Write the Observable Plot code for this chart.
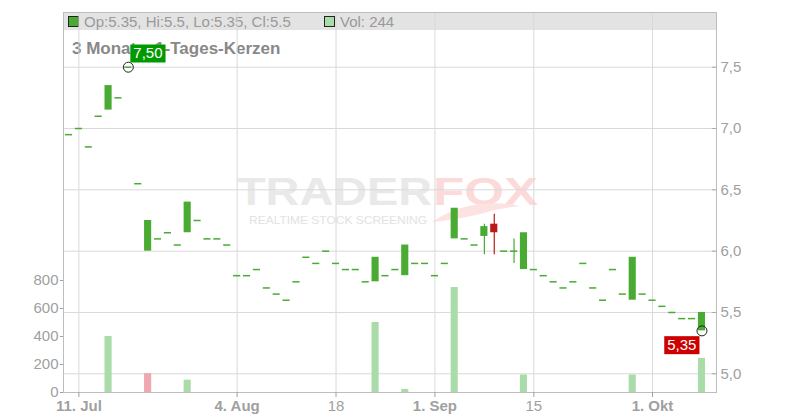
<!DOCTYPE html>
<html><head><meta charset="utf-8">
<script src="https://cdn.jsdelivr.net/npm/d3@7"></script>
<script src="https://cdn.jsdelivr.net/npm/@observablehq/plot@0.6"></script>
<style>
body{margin:0;background:#fff;font-family:"Liberation Sans",Arial,sans-serif;}
#wrap{position:relative;width:800px;height:420px;overflow:hidden;}
#wrap > *{position:absolute;left:0;top:0;}
</style></head><body><div id="wrap"></div>
<script>
const dates = ["2025-07-10","2025-07-11","2025-07-14","2025-07-15","2025-07-16","2025-07-17","2025-07-18","2025-07-21","2025-07-22","2025-07-23","2025-07-24","2025-07-25","2025-07-28","2025-07-29","2025-07-30","2025-07-31","2025-08-01",
"2025-08-04","2025-08-05","2025-08-06","2025-08-07","2025-08-08","2025-08-11","2025-08-12","2025-08-13","2025-08-14","2025-08-15","2025-08-18","2025-08-19","2025-08-20","2025-08-21","2025-08-22","2025-08-25","2025-08-26","2025-08-27","2025-08-28","2025-08-29",
"2025-09-01","2025-09-02","2025-09-03","2025-09-04","2025-09-05","2025-09-08","2025-09-09","2025-09-10","2025-09-11","2025-09-12","2025-09-15","2025-09-16","2025-09-17","2025-09-18","2025-09-19","2025-09-22","2025-09-23","2025-09-24","2025-09-25","2025-09-26","2025-09-29","2025-09-30",
"2025-10-01","2025-10-02","2025-10-03","2025-10-06","2025-10-07","2025-10-08"];
const open  = [6.95,7.00,6.85,7.10,7.15,7.25,7.50,6.55,6.00,6.10,6.15,6.05,6.15,6.25,6.10,6.10,6.05, 5.80,5.80,5.85,5.70,5.65, 5.60,5.75,5.95,5.90,6.00, 5.90,5.85,5.85,5.75,5.75, 5.80,5.85,5.80,5.90,5.90, 5.80,5.90,6.10,6.10,6.05, 6.12,6.22,6.00,6.00,5.85, 5.85,5.80,5.75,5.70,5.75, 5.90,5.70,5.60,5.85,5.65, 5.60,5.65,5.60,5.55,5.50, 5.45,5.45,5.35];
const high  = [6.95,7.00,6.85,7.10,7.35,7.25,7.50,6.55,6.25,6.10,6.15,6.05,6.40,6.25,6.10,6.10,6.05, 5.80,5.80,5.85,5.70,5.65, 5.60,5.75,5.95,5.90,6.00, 5.90,5.85,5.85,5.75,5.95, 5.80,5.85,6.05,5.90,5.90, 5.80,5.90,6.35,6.10,6.05, 6.22,6.30,6.00,6.10,6.15, 5.85,5.80,5.75,5.70,5.75, 5.90,5.70,5.60,5.85,5.65, 5.95,5.65,5.60,5.55,5.50, 5.45,5.45,5.50];
const low   = [6.95,7.00,6.85,7.10,7.15,7.25,7.50,6.55,6.00,6.10,6.15,6.05,6.15,6.25,6.10,6.10,6.05, 5.80,5.80,5.85,5.70,5.65, 5.60,5.75,5.95,5.90,6.00, 5.90,5.85,5.85,5.75,5.75, 5.80,5.85,5.80,5.90,5.90, 5.80,5.90,6.10,6.10,6.05, 5.97,5.97,6.00,5.90,5.85, 5.85,5.80,5.75,5.70,5.75, 5.90,5.70,5.60,5.85,5.65, 5.60,5.65,5.60,5.55,5.50, 5.45,5.45,5.35];
const close = [6.95,7.00,6.85,7.10,7.35,7.25,7.50,6.55,6.25,6.10,6.15,6.05,6.40,6.25,6.10,6.10,6.05, 5.80,5.80,5.85,5.70,5.65, 5.60,5.75,5.95,5.90,6.00, 5.90,5.85,5.85,5.75,5.95, 5.80,5.85,6.05,5.90,5.90, 5.80,5.90,6.35,6.10,6.05, 6.20,6.15,6.00,6.00,6.15, 5.85,5.80,5.75,5.70,5.75, 5.90,5.70,5.60,5.85,5.65, 5.95,5.65,5.60,5.55,5.50, 5.45,5.45,5.50];
const volume = [0,0,0,0,400,0,0,0,135,0,0,0,88,0,0,0,0, 0,0,0,0,0, 0,0,0,0,0, 0,0,0,0,500, 0,0,22,0,0, 0,0,750,0,0, 0,0,0,0,125, 0,0,0,0,0, 0,0,0,0,0, 125,0,0,0,0, 0,0,244];
const priceTicks = [5.0, 5.5, 6.0, 6.5, 7.0, 7.5];
const volumeTicks = [0, 200, 400, 600, 800];
const tickDates = ["2025-07-11","2025-08-04","2025-08-18","2025-09-01","2025-09-15","2025-10-01"];
const tickLabels = ["11. Jul","4. Aug","18","1. Sep","15","1. Okt"];
const titleText = "3 Monate, 1-Tages-Kerzen";

const FONT = '"Liberation Sans", Arial, sans-serif';
const green = "#4aab33", red = "#bb1a1a", volGreen = "#aadcaa", volRed = "#f0a8b0";
const rows = dates.map((date, i) => ({
  i, date, o: open[i], h: high[i], l: low[i], c: close[i], v: volume[i],
  col: close[i] >= open[i] ? green : red,
  vcol: (i === 0 || close[i] >= close[i - 1]) ? volGreen : volRed
}));
const X_DOMAIN = [-0.556, 65.47];
const HW = 0.36;
const common = {
  width: 800, height: 420, marginLeft: 63, marginRight: 84, marginTop: 12, marginBottom: 28,
  x: {type: "linear", domain: X_DOMAIN, axis: null, label: null},
  color: {type: "identity"}
};
const tickIdx = tickDates.map(d => dates.indexOf(d));
const labelOf = new Map(tickIdx.map((k, j) => [k, tickLabels[j]]));
const boldIdx = tickIdx.filter((k, j) => /[A-Za-z]/.test(tickLabels[j]));
const plainIdx = tickIdx.filter((k, j) => !/[A-Za-z]/.test(tickLabels[j]));
const hiI = d3.maxIndex(high), loI = d3.minIndex(low);
const fmt2 = v => v.toFixed(2).replace(".", ",");
const last = rows[rows.length - 1];
const hiText = fmt2(high[hiI]), loText = fmt2(low[loI]);

const styleBase = {background: "transparent", color: "#a0a0a0", fontSize: "15px", fontFamily: FONT, overflow: "visible"};

const pricePlot = Plot.plot({
  ...common,
  style: styleBase,
  y: {domain: [4.8475, 7.946], axis: null, label: null},
  marks: [
    Plot.gridX(tickIdx, {stroke: "#d9d9d9", strokeOpacity: 1}),
    Plot.gridY(priceTicks, {stroke: "#d9d9d9", strokeOpacity: 1}),
    Plot.frame({stroke: "#bdbdbd"}),
    Plot.ruleY(priceTicks, {x1: X_DOMAIN[1] - 0.42, x2: X_DOMAIN[1], stroke: "#aaaaaa"}),
    Plot.axisY(priceTicks, {anchor: "right", label: null, tickSize: 0, tickPadding: 4, tickFormat: d => d.toFixed(1).replace(".", ",")}),
    Plot.axisX(boldIdx, {label: null, tickSize: 5, tickPadding: 3, tickFormat: k => labelOf.get(k), fontWeight: "bold"}),
    Plot.axisX(plainIdx, {label: null, tickSize: 5, tickPadding: 3, tickFormat: k => labelOf.get(k)}),
    Plot.ruleX(rows.filter(d => d.h > Math.max(d.o, d.c) || d.l < Math.min(d.o, d.c)), {x: "i", y1: "l", y2: "h", stroke: "col", strokeWidth: 1.2}),
    Plot.rect(rows.filter(d => d.o !== d.c), {x1: d => d.i - HW, x2: d => d.i + HW, y1: "o", y2: "c", fill: "col"}),
    Plot.ruleY(rows.filter(d => d.o === d.c), {x1: d => d.i - HW, x2: d => d.i + HW, y: "c", stroke: "col", strokeWidth: 1.5}),
    Plot.dot([rows[hiI]], {x: "i", y: "h", r: 5, stroke: "#222", strokeWidth: 1, fill: "none"}),
    Plot.dot([rows[loI]], {x: "i", y: "l", r: 5, stroke: "#222", strokeWidth: 1, fill: "none"}),
    Plot.text([rows[hiI]], {x: "i", y: "h", text: d => fmt2(d.h), textAnchor: "start", lineAnchor: "middle", dx: 5, dy: -14, fill: "white", fontSize: 15}),
    Plot.text([rows[loI]], {x: "i", y: "l", text: d => fmt2(d.l), textAnchor: "end", lineAnchor: "middle", dx: -5.5, dy: 14, fill: "white", fontSize: 15})
  ]
});

const volumePlot = Plot.plot({
  ...common,
  style: styleBase,
  y: {domain: [0, 2714], axis: null, label: null},
  marks: [
    Plot.rect(rows.filter(d => d.v > 0), {x1: d => d.i - HW, x2: d => d.i + HW, y1: 0, y2: "v", fill: "vcol"}),
    Plot.axisY(volumeTicks, {anchor: "left", label: null, tickSize: 3, tickPadding: 2})
  ]
});

const wrap = document.getElementById("wrap");
const bg = `
<svg xmlns="http://www.w3.org/2000/svg" width="800" height="420" style="font-family:${FONT}">
  <rect x="63" y="12" width="653" height="18" fill="#e3e3e3"/>
  <rect x="68.5" y="16.5" width="10" height="10" fill="${green}" stroke="#222"/>
  <text x="84" y="27" font-size="15" fill="#9a9a9a">Op:${last.o}, Hi:${last.h}, Lo:${last.l}, Cl:${last.c}</text>
  <rect x="324.5" y="16.5" width="10" height="10" fill="${volGreen}" stroke="#222"/>
  <text x="340" y="27" font-size="15" fill="#9a9a9a">Vol: ${last.v}</text>
  <g font-weight="bold">
    <text x="237" y="205" font-size="38" fill="#e9e9e9" textLength="195" lengthAdjust="spacingAndGlyphs">TRADER</text>
    <text x="433" y="205" font-size="38" fill="#fcdada" textLength="105" lengthAdjust="spacingAndGlyphs">FOX</text>
  </g>
  <path d="M432 222 Q470 196 520 206 Q500 208 480 214 Q455 220 432 222Z" fill="#fde2e2"/>
  <text x="249" y="224" font-size="10.5" fill="#e2e2e2" textLength="178" lengthAdjust="spacingAndGlyphs">REALTIME STOCK SCREENING</text>
  <text x="72" y="54" font-size="17" font-weight="bold" fill="#888">${titleText}</text>
</svg>`;
const bgDiv = document.createElement("div");
bgDiv.innerHTML = bg;
wrap.appendChild(bgDiv);
wrap.appendChild(pricePlot);
wrap.appendChild(volumePlot);

function boxLabel(svg, label, color) {
  Array.from(svg.querySelectorAll("text")).filter(t => t.textContent === label).forEach(t => {
    const b = t.getBBox();
    const r = document.createElementNS("http://www.w3.org/2000/svg", "rect");
    r.setAttribute("x", b.x - 3);
    r.setAttribute("y", b.y + 0.5);
    r.setAttribute("width", b.width + 6);
    r.setAttribute("height", b.height + 1);
    r.setAttribute("fill", color);
    const tr = t.getAttribute("transform");
    if (tr) r.setAttribute("transform", tr);
    t.parentNode.insertBefore(r, t);
  });
}
boxLabel(pricePlot, hiText, "#009a00");
boxLabel(pricePlot, loText, "#cc0000");
</script></body></html>
